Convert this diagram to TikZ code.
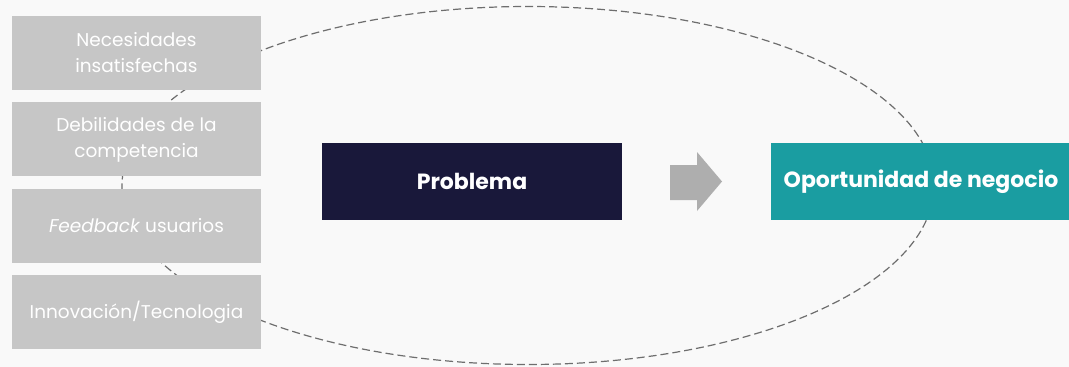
\documentclass[tikz,border=0pt]{standalone}
\usepackage{fontspec}
\setmainfont{Poppins}
\usetikzlibrary{positioning}
\definecolor{fondo}{HTML}{F9F9F9}
\definecolor{cajagris}{HTML}{C6C6C6}
\definecolor{azulnoche}{HTML}{19183A}
\definecolor{turquesa}{HTML}{1A9DA1}
\definecolor{flechagris}{HTML}{AEAEAE}
\definecolor{lineagris}{HTML}{6E6E6E}

\begin{document}
\begin{tikzpicture}[x=1pt,y=-1pt,
	fuente/.style={fill=cajagris, text=white, minimum width=249pt, minimum height=74pt, inner sep=0pt, align=center, font=\fontsize{18.5}{26}\selectfont},
	bloque/.style={minimum width=300pt, minimum height=77pt, inner sep=0pt, text=white, font=\fontsize{22}{26}\selectfont\bfseries}]
		\fill[fondo] (0,0) rectangle (1069,367); % background
		\useasboundingbox (0,0) rectangle (1069,367);
		\draw[lineagris, line width=1.2pt, dash pattern=on 8pt off 4pt] (528,185.5) ellipse [x radius=406, y radius=179]; % big dashed ellipse
		\node[fuente] (necesidades) at (136.5,53) {Necesidades\\insatisfechas};
		\node[fuente, below=12pt of necesidades] (debilidades) {Debilidades de la\\competencia};
		\node[fuente, below=12pt of debilidades] (feedback) {\textit{Feedback} usuarios};
		\node[fuente, below=12pt of feedback] (innovacion) {Innovación/Tecnologia};
		\node[bloque, fill=azulnoche] (problema) at (472,181.5) {Problema};
		\node[bloque, fill=turquesa] (oportunidad) at (921,181.5) {Oportunidad de negocio};
		\fill[flechagris] (670,165) -- (697,165) -- (697,152) -- (722,181.5) -- (697,211) -- (697,200) -- (670,200) -- cycle; % block arrow
		\end{tikzpicture}
\end{document}
